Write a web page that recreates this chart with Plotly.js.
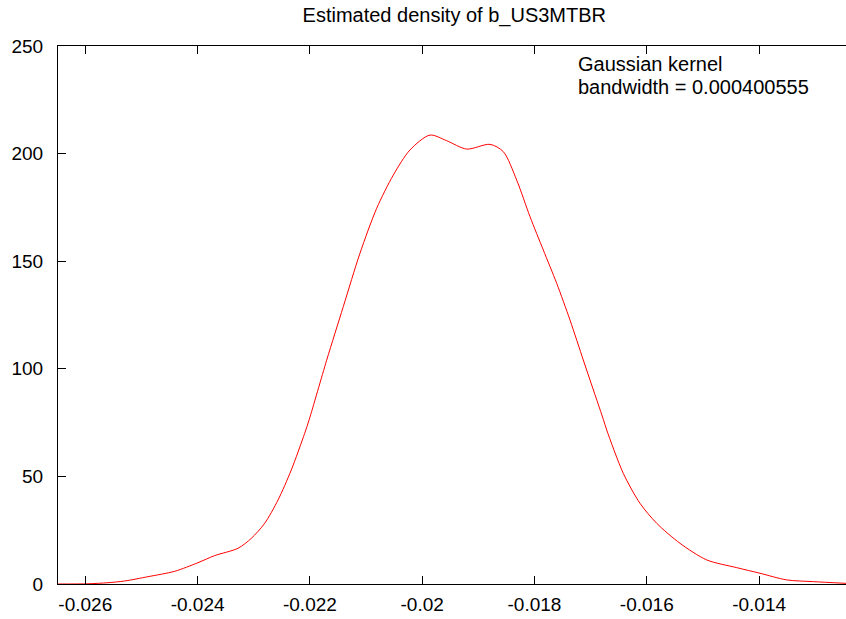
<!DOCTYPE html>
<html>
<head>
<meta charset="utf-8">
<script src="https://cdn.plot.ly/plotly-3.0.1.min.js"></script>
<style>html,body{margin:0;padding:0;background:#fff;}#chart{width:846px;height:619px;}</style>
</head>
<body>
<div id="chart"></div>
<script>
const xValues = [-0.02649, -0.025952, -0.025596, -0.025298, -0.024883, -0.024408, -0.023993, -0.023695, -0.02328, -0.023044,
  -0.022805, -0.022568, -0.022331, -0.022093, -0.022011, -0.021701, -0.021405, -0.021108, -0.02081, -0.020515,
  -0.020217, -0.019861, -0.019564, -0.019207, -0.018792, -0.018555, -0.018317, -0.01808, -0.017843, -0.017604,
  -0.017368, -0.017131, -0.017011, -0.016774, -0.016714, -0.016418, -0.016121, -0.015823, -0.015408, -0.014933,
  -0.014399, -0.013984, -0.013508, -0.013034, -0.012452];
const densityValues = [0, 0.1, 0.6, 1.4, 3.4, 5.9, 9.9, 13.2, 16.6, 21.2,
  28.2, 39, 53, 70, 76.5, 104, 128.9, 153.7, 174.6, 190,
  201.7, 208.6, 206, 202.1, 204.3, 200.9, 187.7, 170.7, 155.2, 139.7,
  122.7, 104.1, 94.8, 76.5, 71.6, 51.4, 37.5, 28.2, 18.9, 11.2,
  7.6, 5.0, 1.9, 1.1, 0.3];
const xTicks = [-0.026, -0.024, -0.022, -0.02, -0.018, -0.016, -0.014];
const xTickLabels = ["-0.026", "-0.024", "-0.022", "-0.02", "-0.018", "-0.016", "-0.014"];
const yTicks = [0, 50, 100, 150, 200, 250];
const titleText = "Estimated density of b_US3MTBR";
const noteLines = ["Gaussian kernel", "bandwidth = 0.000400555"];

const family = "Liberation Sans, Arial, sans-serif";
const tickFont = {family: family, size: 19, color: "#000"};
const textFont = {family: family, size: 20, color: "#000"};

Plotly.newPlot("chart", [{
  x: xValues, y: densityValues, type: "scatter", mode: "lines",
  line: {color: "#ff0000", width: 1, shape: "spline", smoothing: 0.8},
  hoverinfo: "skip", showlegend: false
}], {
  width: 846, height: 619,
  margin: {l: 58, r: 0, t: 46, b: 35},
  paper_bgcolor: "#fff", plot_bgcolor: "#fff",
  font: tickFont,
  title: {text: titleText, font: textFont, x: 0.537, xanchor: "center", y: 0.976, yanchor: "middle"},
  xaxis: {
    range: [-0.026486, -0.012452], tickvals: xTicks, ticktext: xTickLabels,
    ticks: "inside", ticklen: 8, tickwidth: 1, tickcolor: "#000",
    showline: true, linecolor: "#000", linewidth: 1, mirror: "ticks",
    showgrid: false, zeroline: false, tickfont: tickFont, fixedrange: true,
    ticklabelstandoff: 3
  },
  yaxis: {
    range: [0, 250], tickvals: yTicks,
    ticks: "inside", ticklen: 8, tickwidth: 1, tickcolor: "#000",
    showline: true, linecolor: "#000", linewidth: 1, mirror: false,
    showgrid: false, zeroline: false, tickfont: tickFont, fixedrange: true,
    ticklabelstandoff: 10
  },
  annotations: [
    {text: noteLines[0], xref: "paper", yref: "paper", x: (576-58)/788, y: (584-64.5)/538, xanchor: "left", yanchor: "middle", showarrow: false, font: textFont},
    {text: noteLines[1], xref: "paper", yref: "paper", x: (576-58)/788, y: (584-86.5)/538, xanchor: "left", yanchor: "middle", showarrow: false, font: textFont}
  ]
}, {staticPlot: true});
</script>
</body>
</html>
